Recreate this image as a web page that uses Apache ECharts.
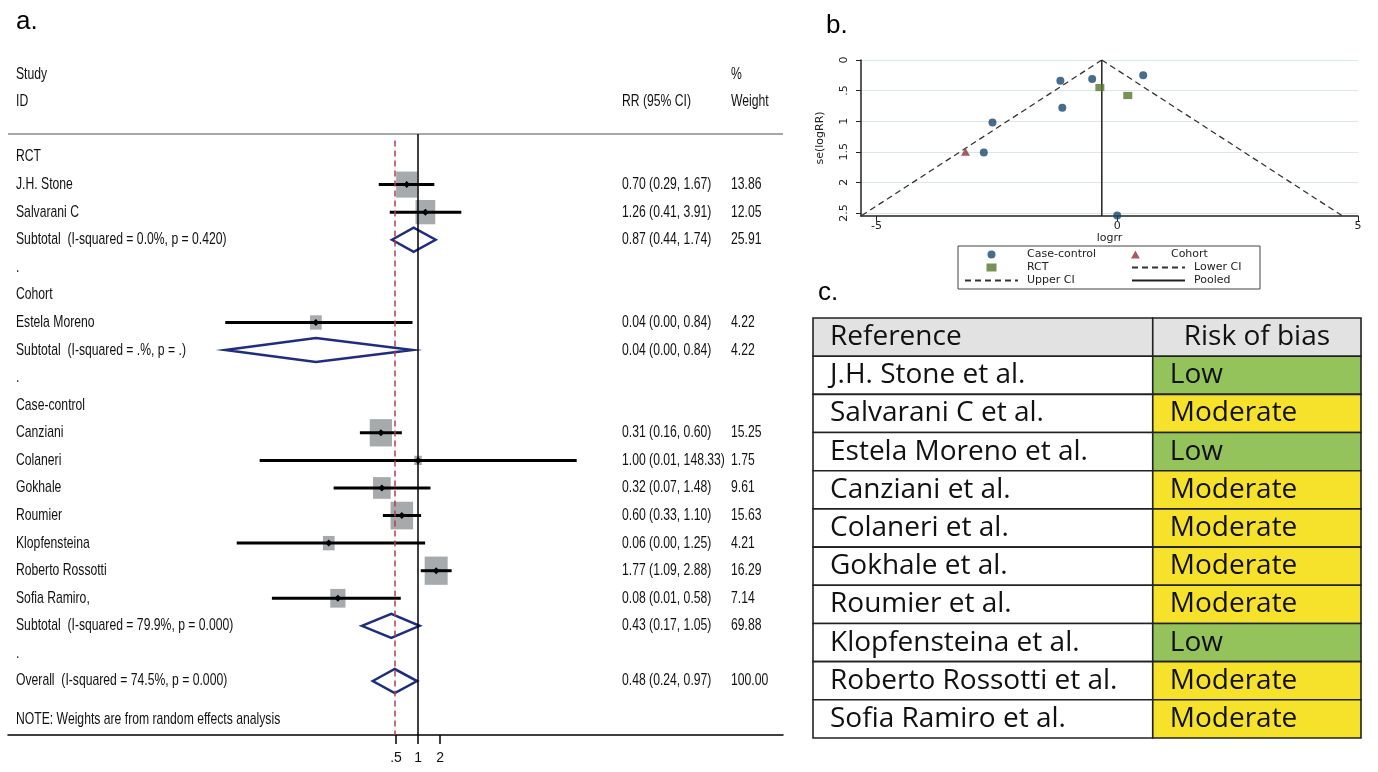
<!DOCTYPE html>
<html>
<head>
<meta charset="utf-8">
<script src="https://cdn.jsdelivr.net/npm/echarts@6/dist/echarts.min.js"></script>
<style>
  html, body { margin: 0; padding: 0; background: #fff; }
  #chart { width: 1378px; height: 772px; }
</style>
</head>
<body>
<div id="chart"></div>
<script>
// ---------- panel a: forest plot (rows top to bottom) ----------
const rowLabels = [
  'RCT', 'J.H. Stone', 'Salvarani C', 'Subtotal  (I-squared = 0.0%, p = 0.420)', '.',
  'Cohort', 'Estela Moreno', 'Subtotal  (I-squared = .%, p = .)', '.',
  'Case-control', 'Canziani', 'Colaneri', 'Gokhale', 'Roumier', 'Klopfensteina',
  'Roberto Rossotti', 'Sofia Ramiro,', 'Subtotal  (I-squared = 79.9%, p = 0.000)', '.',
  'Overall  (I-squared = 74.5%, p = 0.000)'
];
const rowKind = [
  'head', 'study', 'study', 'sub', 'gap',
  'head', 'study', 'sub', 'gap',
  'head', 'study', 'study', 'study', 'study', 'study', 'study', 'study', 'sub', 'gap',
  'sub'
];
const rrValues = [null, 0.70, 1.26, 0.87, null, null, 0.04, 0.04, null, null, 0.31, 1.00, 0.32, 0.60, 0.06, 1.77, 0.08, 0.43, null, 0.48];
const ciLower = [null, 0.29, 0.41, 0.44, null, null, 0.0023, 0.0023, null, null, 0.16, 0.0068, 0.07, 0.33, 0.0033, 1.09, 0.01, 0.17, null, 0.24];
const ciUpper = [null, 1.67, 3.91, 1.74, null, null, 0.84, 0.84, null, null, 0.60, 148.33, 1.48, 1.10, 1.25, 2.88, 0.58, 1.05, null, 0.97];
const weights = [null, 13.86, 12.05, 25.91, null, null, 4.22, 4.22, null, null, 15.25, 1.75, 9.61, 15.63, 4.21, 16.29, 7.14, 69.88, null, 100.00];
const headStudy = ['Study', 'ID'];
const headCi = ['', 'RR (95% CI)'];
const headWeight = ['%', 'Weight'];
const noteText = 'NOTE: Weights are from random effects analysis';
const rrTicks = [0.5, 1, 2];
const rrTickLabels = ['.5', '1', '2'];
const overallRR = 0.48;

// ---------- panel b: funnel plot ----------
const caseControlPts = [[-1.18, 0.34], [-0.52, 0.31], [-1.14, 0.78], [-2.59, 1.02], [-2.77, 1.51], [0.54, 0.25], [0.00, 2.54]];
const cohortPts = [[-3.15, 1.50]];
const rctPts = [[-0.36, 0.45], [0.22, 0.58]];
const lowerCI = [[-0.32, 0], [-5.32, 2.55]];
const upperCI = [[-0.32, 0], [4.68, 2.55]];
const pooledLine = [[-0.32, 0], [-0.32, 2.55]];
const logrrTicks = [-5, 0, 5];
const seTicks = [0, 0.5, 1, 1.5, 2, 2.5];
const seTickLabels = ['0', '.5', '1', '1.5', '2', '2.5'];

// ---------- panel c: risk of bias table ----------
const tableHead = ['Reference', 'Risk of bias'];
const refNames = [
  'J.H. Stone et al.', 'Salvarani C et al.', 'Estela Moreno et al.', 'Canziani et al.',
  'Colaneri et al.', 'Gokhale et al.', 'Roumier et al.', 'Klopfensteina et al.',
  'Roberto Rossotti et al.', 'Sofia Ramiro et al.'
];
const riskLevels = ['Low', 'Moderate', 'Low', 'Moderate', 'Moderate', 'Moderate', 'Moderate', 'Low', 'Moderate', 'Moderate'];

const riskColors = { Low: '#93c35a', Moderate: '#f7e22b' };
const FONT_A = '"Liberation Sans", Arial, sans-serif';
const FONT_B = '"DejaVu Sans", Verdana, sans-serif';
const FONT_C = '"Open Sans", "Noto Sans", sans-serif';
const NARROW_X = 0.87; // stata text is condensed
const TALL_Y = 1.15;

const chart = echarts.init(document.getElementById('chart'));

// forest marks
const forestData = [];
rowKind.forEach((k, i) => {
  if (rrValues[i] != null) {
    forestData.push([i, rrValues[i], ciLower[i], ciUpper[i], weights[i], k === 'sub' ? 1 : 0]);
  }
});

// forest text rows
const textRows = [];
headStudy.forEach((t, j) => textRows.push({ row: j - 3, name: t, ci: headCi[j], w: headWeight[j] }));
rowLabels.forEach((t, i) => {
  const has = rrValues[i] != null;
  textRows.push({
    row: i,
    name: t,
    ci: has ? rrValues[i].toFixed(2) + ' (' + ciLower[i].toFixed(2) + ', ' + ciUpper[i].toFixed(2) + ')' : '',
    w: has ? weights[i].toFixed(2) : ''
  });
});
textRows.push({ row: 20.41, name: noteText, ci: '', w: '' });

function renderForest(params, api) {
  const row = api.value(0);
  const est = api.coord([api.value(1), row]);
  const lo = api.coord([api.value(2), row]);
  const hi = api.coord([api.value(3), row]);
  const w = api.value(4);
  const y = est[1];
  if (api.value(5) === 1) {
    return {
      type: 'polygon',
      shape: { points: [[lo[0], y], [est[0], y - 12], [hi[0], y], [est[0], y + 12]] },
      style: { fill: 'none', stroke: '#202c7e', lineWidth: 2.5 }
    };
  }
  const sw = 5.7 * Math.sqrt(w);
  const sh = 7 * Math.sqrt(w);
  return {
    type: 'group',
    children: [
      { type: 'rect', shape: { x: est[0] - sw / 2, y: y - sh / 2, width: sw, height: sh }, style: { fill: '#a7aaad' } },
      { type: 'line', shape: { x1: lo[0], y1: y, x2: hi[0], y2: y }, style: { stroke: '#000', lineWidth: 3 } },
      { type: 'polygon', shape: { points: [[est[0] - 3.5, y], [est[0], y - 3.5], [est[0] + 3.5, y], [est[0], y + 3.5]] }, style: { fill: '#000' } }
    ]
  };
}

function renderForestText(params, api) {
  const r = textRows[params.dataIndex];
  const y = api.coord([1, r.row])[1];
  const x0 = params.coordSys.x;
  const mk = (x, text) => ({
    type: 'text', x: x, y: y, scaleX: NARROW_X, scaleY: TALL_Y,
    style: { text: text, fill: '#111', fontSize: 14, fontFamily: FONT_A, align: 'left', verticalAlign: 'middle' }
  });
  return { type: 'group', children: [mk(x0 + 8, r.name), mk(x0 + 614, r.ci), mk(x0 + 723, r.w)] };
}

const colSplit = 0.62;
function renderTable(params, api) {
  const row = api.value(0);
  const pl = api.coord([0, row]);
  const ps = api.coord([colSplit, row]);
  const pr = api.coord([1, row]);
  const h = api.size([0, 1])[1];
  const top = pl[1] - h / 2;
  const isHead = row === 0;
  const leftText = isHead ? tableHead[0] : refNames[row - 1];
  const rightText = isHead ? tableHead[1] : riskLevels[row - 1];
  const rightFill = isHead ? '#e2e2e2' : riskColors[riskLevels[row - 1]];
  const txt = { fill: '#111', fontSize: 28, fontFamily: FONT_C, verticalAlign: 'middle' };
  return {
    type: 'group',
    children: [
      { type: 'rect', shape: { x: pl[0], y: top, width: ps[0] - pl[0], height: h }, style: { fill: isHead ? '#e2e2e2' : '#fff', stroke: '#222', lineWidth: 1.6 } },
      { type: 'rect', shape: { x: ps[0], y: top, width: pr[0] - ps[0], height: h }, style: { fill: rightFill, stroke: '#222', lineWidth: 1.6 } },
      { type: 'text', x: pl[0] + 17, y: pl[1], style: Object.assign({ text: leftText, align: 'left' }, txt) },
      isHead
        ? { type: 'text', x: (ps[0] + pr[0]) / 2, y: pl[1], style: Object.assign({ text: rightText, align: 'center' }, txt) }
        : { type: 'text', x: ps[0] + 17, y: pl[1], style: Object.assign({ text: rightText, align: 'left' }, txt) }
    ]
  };
}

const titleStyle = { fontSize: 26, fontWeight: 'normal', fontFamily: 'Liberation Sans, Arial', color: '#000' };

const option = {
  animation: false,
  backgroundColor: '#fff',
  title: [
    { text: 'a.', left: 11, top: 4, textStyle: titleStyle },
    { text: 'b.', left: 821, top: 8, textStyle: titleStyle },
    { text: 'c.', left: 813, top: 275, textStyle: titleStyle }
  ],
  legend: {
    left: 958, top: 246, width: 293,
    orient: 'horizontal',
    padding: [2, 6, 2, 6],
    itemWidth: 53, itemHeight: 8, itemGap: 0,
    borderColor: '#444', borderWidth: 1,
    selectedMode: false,
    textStyle: { fontFamily: FONT_B, fontSize: 11, color: '#222', lineHeight: 13, padding: [0, 0, 0, 4] },
    data: [
      { name: 'Case-control', textStyle: { width: 104 } },
      { name: 'Cohort', textStyle: { width: 60 } },
      { name: 'RCT', textStyle: { width: 104 } },
      { name: 'Lower CI', textStyle: { width: 60 } },
      { name: 'Upper CI', textStyle: { width: 104 } },
      { name: 'Pooled', textStyle: { width: 60 } }
    ]
  },
  grid: [
    { left: 8, right: 595, top: 60, bottom: 37 },
    { left: 861, top: 60, width: 497, height: 156 },
    { left: 813, top: 318, width: 548, height: 420 }
  ],
  xAxis: [
    {
      gridIndex: 0, type: 'log', logBase: 2,
      min: Math.pow(2, -18.64), max: Math.pow(2, 16.59),
      axisLine: { onZero: false, lineStyle: { color: '#000', width: 1.5 } },
      axisTick: { customValues: rrTicks, length: 9, lineStyle: { color: '#000', width: 1.5 } },
      axisLabel: {
        customValues: rrTicks, margin: 16, color: '#111', fontSize: 14, fontFamily: FONT_A,
        formatter: v => rrTickLabels[rrTicks.indexOf(Number(v))] ?? ''
      },
      splitLine: { show: false }
    },
    {
      gridIndex: 1, type: 'value', min: -5.32, max: 5,
      name: 'logrr', nameLocation: 'middle', nameGap: 13,
      nameTextStyle: { fontFamily: FONT_B, fontSize: 11, color: '#222' },
      axisLine: { onZero: false, lineStyle: { color: '#222', width: 1.5 } },
      axisTick: { customValues: logrrTicks, length: 5, lineStyle: { color: '#222' } },
      axisLabel: { customValues: logrrTicks, margin: 5, fontFamily: FONT_B, fontSize: 11, color: '#222' },
      splitLine: { show: false }
    },
    { gridIndex: 2, type: 'value', min: 0, max: 1, show: false }
  ],
  yAxis: [
    { gridIndex: 0, type: 'value', min: -3.517, max: 20.957, inverse: true, show: false },
    {
      gridIndex: 1, type: 'value', min: 0, max: 2.55, inverse: true,
      name: 'se(logRR)', nameLocation: 'middle', nameGap: 35, nameRotate: 90,
      nameTextStyle: { fontFamily: FONT_B, fontSize: 11, color: '#222' },
      axisLine: { show: true, onZero: false, lineStyle: { color: '#222', width: 1.5 } },
      axisTick: { show: true, customValues: seTicks, length: 5, lineStyle: { color: '#222' } },
      axisLabel: {
        customValues: seTicks, rotate: 90, margin: 11, fontFamily: FONT_B, fontSize: 11, color: '#222',
        formatter: v => seTickLabels[seTicks.indexOf(Number(v))] ?? ''
      },
      splitLine: { show: true, lineStyle: { color: '#dbe8ea', width: 1.2 } }
    },
    { gridIndex: 2, type: 'category', data: [tableHead[0]].concat(refNames), inverse: true, show: false }
  ],
  series: [
    {
      type: 'custom', name: 'forest', xAxisIndex: 0, yAxisIndex: 0,
      data: forestData, renderItem: renderForest, z: 3,
      markLine: {
        silent: true, symbol: ['none', 'none'], label: { show: false },
        data: [
          { yAxis: -0.834, lineStyle: { color: '#a9a9a9', width: 2, type: 'solid' } },
          [{ coord: [1, -0.834], lineStyle: { color: '#000', width: 1.5, type: 'solid' } }, { coord: [1, 20.957] }],
          [{ coord: [overallRR, -0.6], lineStyle: { color: '#b04050', width: 1.5, type: [6, 4] } }, { coord: [overallRR, 20.957] }]
        ]
      }
    },
    {
      type: 'custom', name: 'forestText', xAxisIndex: 0, yAxisIndex: 0,
      data: textRows.map(r => [r.row]), renderItem: renderForestText, z: 4, silent: true
    },
    {
      type: 'line', name: 'Lower CI', xAxisIndex: 1, yAxisIndex: 1, data: lowerCI,
      symbol: 'none', lineStyle: { color: '#333', width: 1.3, type: [6, 4] }, itemStyle: { color: 'rgba(0,0,0,0)' }, silent: true
    },
    {
      type: 'line', name: 'Upper CI', xAxisIndex: 1, yAxisIndex: 1, data: upperCI,
      symbol: 'none', lineStyle: { color: '#333', width: 1.3, type: [6, 4] }, itemStyle: { color: 'rgba(0,0,0,0)' }, silent: true
    },
    {
      type: 'line', name: 'Pooled', xAxisIndex: 1, yAxisIndex: 1, data: pooledLine,
      symbol: 'none', lineStyle: { color: '#222', width: 1.5 }, itemStyle: { color: 'rgba(0,0,0,0)' }, silent: true
    },
    {
      type: 'scatter', name: 'Case-control', xAxisIndex: 1, yAxisIndex: 1, data: caseControlPts,
      symbol: 'circle', symbolSize: 8, itemStyle: { color: '#1a476f' }, z: 5
    },
    {
      type: 'scatter', name: 'Cohort', xAxisIndex: 1, yAxisIndex: 1, data: cohortPts,
      symbol: 'path://M5,0L10,9L0,9Z', symbolKeepAspect: true, symbolSize: 9, itemStyle: { color: '#90353b' }, z: 5
    },
    {
      type: 'scatter', name: 'RCT', xAxisIndex: 1, yAxisIndex: 1, data: rctPts,
      symbol: 'path://M0,0H10V8H0Z', symbolKeepAspect: true, symbolSize: 9, itemStyle: { color: '#55752f' }, z: 5
    },
    {
      type: 'custom', name: 'table', xAxisIndex: 2, yAxisIndex: 2,
      data: [tableHead[0]].concat(refNames).map((_, i) => [i]), renderItem: renderTable, silent: true
    }
  ]
};

chart.setOption(option);
</script>
</body>
</html>
